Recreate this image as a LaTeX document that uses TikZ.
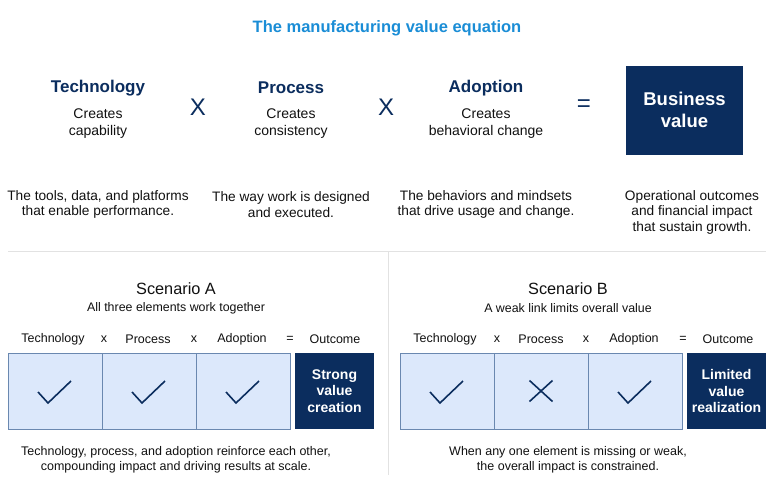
\documentclass[tikz,border=0pt]{standalone}
\usepackage{fontspec}
\setmainfont{Liberation Sans}
\definecolor{navy}{HTML}{0B2D5E}
\definecolor{titleblue}{HTML}{1A8DD6}
\definecolor{cellfill}{HTML}{DCE8FB}
\definecolor{cellline}{HTML}{6A88B0}
\definecolor{sepgray}{HTML}{E2E2E2}
\definecolor{txt}{HTML}{111111}
\newcommand{\fs}[2]{\fontsize{#1}{#2}\selectfont}
\begin{document}
\begin{tikzpicture}[x=1pt,y=-1pt,
  every node/.style={inner sep=0pt, outer sep=0pt, text=txt},
  titlestyle/.style={font=\fs{16.5}{19}\bfseries, text=titleblue},
  head/.style={font=\fs{17}{20}\bfseries, text=navy},
  subtext/.style={font=\fs{14}{17}, align=center},
  desc/.style={font=\fs{13.7}{15.5}, align=center},
  opsign/.style={font=\fs{24}{24}, text=navy},
  bigbox/.style={fill=navy, minimum width=117pt, minimum height=89pt, font=\fs{18.5}{22}\bfseries, text=white, align=center},
  scen/.style={font=\fs{16.3}{19}},
  scsub/.style={font=\fs{12.4}{14}},
  lbl/.style={font=\fs{12.5}{14}},
  note/.style={font=\fs{12.5}{14.5}, align=center},
  cell/.style={draw=cellline, fill=cellfill, line width=0.7pt, minimum width=94pt, minimum height=76pt},
  outbox/.style={fill=navy, minimum width=79pt, minimum height=76pt, font=\fs{14}{16.5}\bfseries, text=white, align=center},
  checkline/.style={draw=navy, line width=1.6pt},
  sepline/.style={draw=sepgray, line width=0.8pt}
]
\useasboundingbox (0,0) rectangle (774,496);
\fill[white] (0,0) rectangle (774,496);

% title
\node[titlestyle] (title) at (387,28) {The manufacturing value equation};

% top equation
\node[head] (h1) at (98,88) {Technology};
\node[subtext] (s1) at (98,124) {Creates\\capability};
\node[opsign] (x1) at (198,107) {X};
\node[head] (h2) at (291,88) {Process};
\node[subtext] (s2) at (291,124) {Creates\\consistency};
\node[opsign] (x2) at (386,107) {X};
\node[head] (h3) at (486,88) {Adoption};
\node[subtext] (s3) at (486,124) {Creates\\behavioral change};
\node[opsign] (eq) at (584,106) {=};
\node[bigbox] (bv) at (684.5,110) {Business\\value};

\node[desc] (d1) at (98,204.5) {The tools, data, and platforms\\that enable performance.};
\node[desc] (d2) at (291,204.5) {The way work is designed\\and executed.};
\node[desc] (d3) at (486,204.5) {The behaviors and mindsets\\that drive usage and change.};
\node[desc] (d4) at (692,212) {Operational outcomes\\and financial impact\\that sustain growth.};

% separators
\coordinate (sl) at (8,251);
\coordinate (sr) at (766,251);
\coordinate (vt) at (388,251);
\coordinate (vb) at (388,475);
\draw[sepline] (sl) -- (sr);
\draw[sepline] (vt) -- (vb);

% Scenario A
\node[scen] (sa) at (176,289) {Scenario A};
\node[scsub] (sasub) at (176,308) {All three elements work together};
\node[lbl] (la1) at (53,339) {Technology};
\node[lbl] (lax1) at (104,339) {x};
\node[lbl] (la2) at (148,339) {Process};
\node[lbl] (lax2) at (194,339) {x};
\node[lbl] (la3) at (242,339) {Adoption};
\node[lbl] (laeq) at (290,339) {=};
\node[lbl] (la4) at (335,339) {Outcome};
\node[cell] (a1) at (55,391) {};
\node[cell] (a2) at (149,391) {};
\node[cell] (a3) at (243,391) {};
\node[outbox] (a4) at (334.5,391) {Strong\\value\\creation};
\draw[checkline] ([shift={(-17,1)}]a1.center) -- ++(10,11) -- ++(23,-22);
\draw[checkline] ([shift={(-17,1)}]a2.center) -- ++(10,11) -- ++(23,-22);
\draw[checkline] ([shift={(-17,1)}]a3.center) -- ++(10,11) -- ++(23,-22);
\node[note] (anote) at (176,460) {Technology, process, and adoption reinforce each other,\\compounding impact and driving results at scale.};

% Scenario B
\node[scen] (sb) at (568,289) {Scenario B};
\node[scsub] (sbsub) at (568,308) {A weak link limits overall value};
\node[lbl] (lb1) at (445,339) {Technology};
\node[lbl] (lbx1) at (497,339) {x};
\node[lbl] (lb2) at (541,339) {Process};
\node[lbl] (lbx2) at (586,339) {x};
\node[lbl] (lb3) at (634,339) {Adoption};
\node[lbl] (lbeq) at (683,339) {=};
\node[lbl] (lb4) at (728,339) {Outcome};
\node[cell] (b1) at (447,391) {};
\node[cell] (b2) at (541,391) {};
\node[cell] (b3) at (635,391) {};
\node[outbox] (b4) at (726.5,391) {Limited\\value\\realization};
\draw[checkline] ([shift={(-17,1)}]b1.center) -- ++(10,11) -- ++(23,-22);
\draw[checkline] ([shift={(-11.5,-10.5)}]b2.center) -- ++(23,21);
\draw[checkline] ([shift={(-11.5,10.5)}]b2.center) -- ++(23,-21);
\draw[checkline] ([shift={(-17,1)}]b3.center) -- ++(10,11) -- ++(23,-22);
\node[note] (bnote) at (568,460) {When any one element is missing or weak,\\the overall impact is constrained.};
\end{tikzpicture}
\end{document}
